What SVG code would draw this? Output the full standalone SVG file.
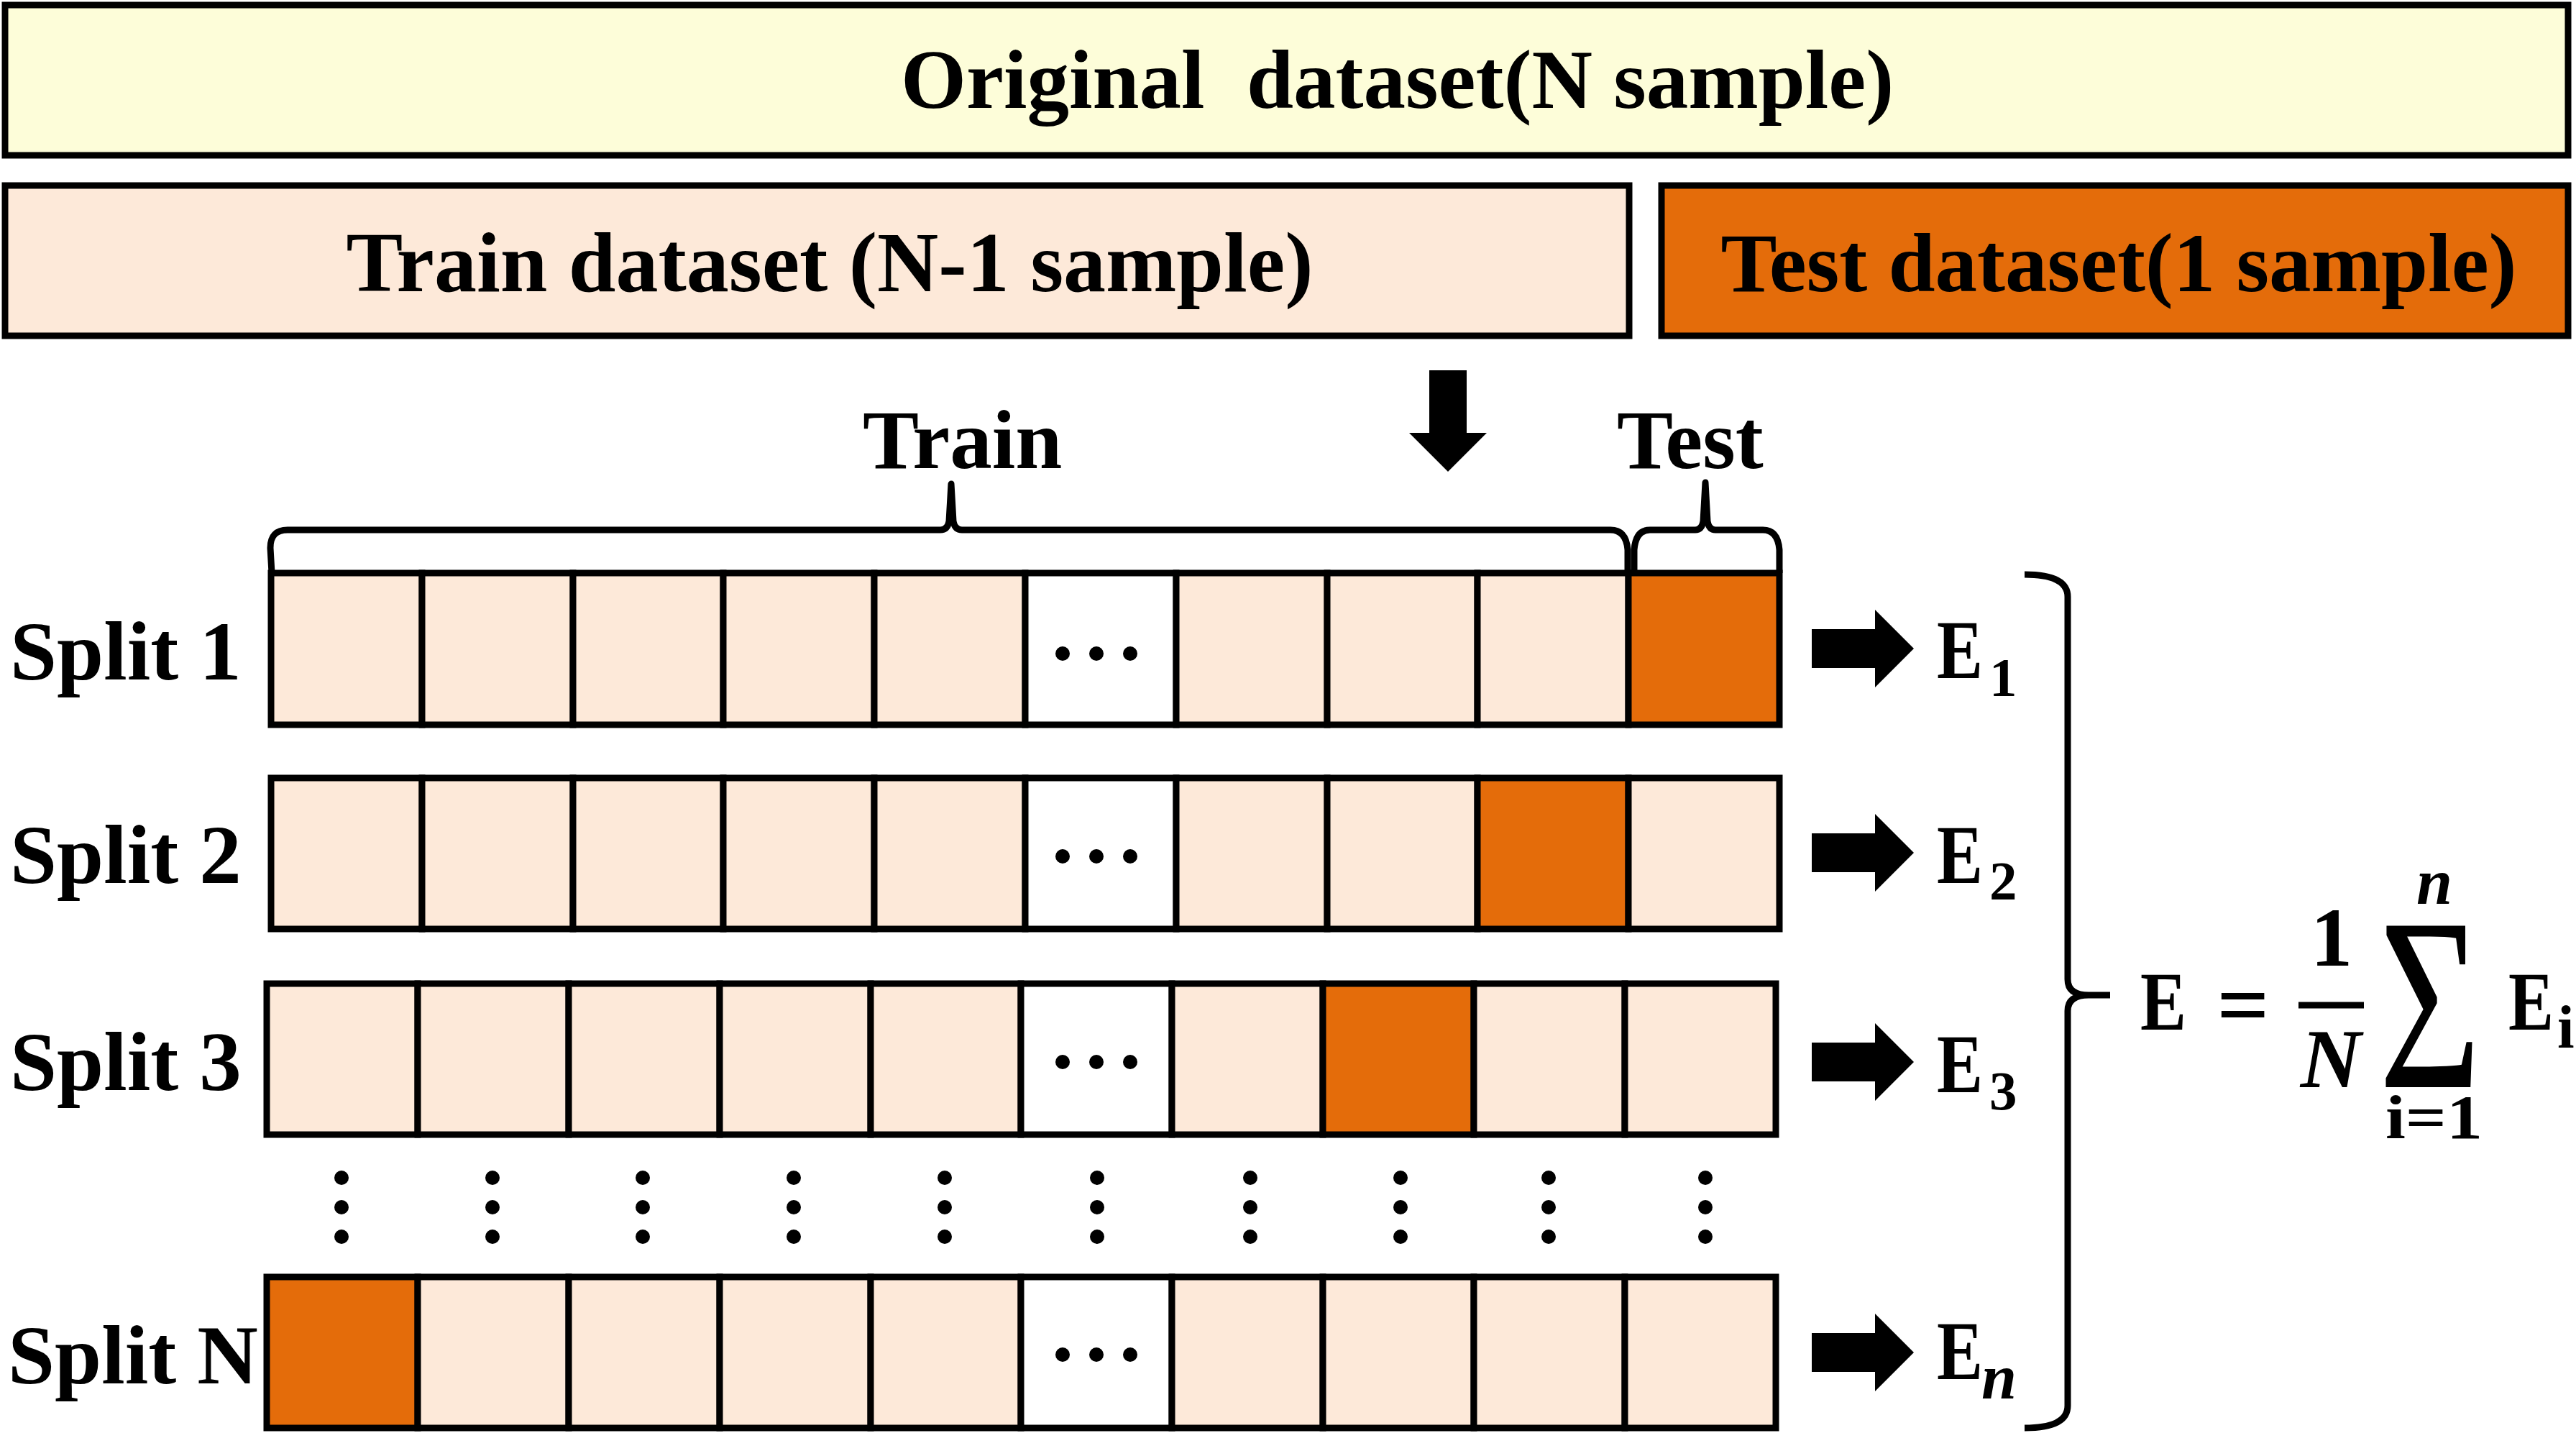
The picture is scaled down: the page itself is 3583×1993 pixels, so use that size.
<svg xmlns="http://www.w3.org/2000/svg" width="3583" height="1993" viewBox="0 0 3583 1993">
<style>
.t{font-family:"Liberation Serif","Times New Roman",serif;font-weight:bold;fill:#000;white-space:pre}
.big{font-size:117px}
.box{stroke:#000;stroke-width:9;stroke-linejoin:miter}
.c{fill:#FDE9D9;stroke:#000;stroke-width:9}
.o{fill:#E46C0A;stroke:#000;stroke-width:9}
.w{fill:#FFFFFF;stroke:#000;stroke-width:9}
.br{fill:none;stroke:#000;stroke-width:9;stroke-linejoin:round;stroke-linecap:butt}
.dot{fill:#000}
</style>
<defs>
<g id="dots3"><circle cx="-47" cy="0" r="10"/><circle cx="0" cy="0" r="10"/><circle cx="47" cy="0" r="10"/></g>
<polygon id="rarrow" points="0,-27 88,-27 88,-54 142,0 88,54 88,27 0,27"/>
</defs>

<g id="original">
<rect class="box" x="7" y="7" width="3565" height="209" fill="#FDFDD9"/>
<text class="t big" x="1253" y="150" xml:space="preserve">Original  dataset(N sample)</text>
</g>
<g id="train-dataset">
<rect class="box" x="7" y="258" width="2259" height="209" fill="#FDE9D9"/>
<text class="t" font-size="118" x="1154" y="405" text-anchor="middle">Train dataset (N-1 sample)</text>
</g>
<g id="test-dataset">
<rect class="box" x="2311" y="258" width="1261" height="209" fill="#E46C0A"/>
<text class="t big" x="2947" y="405" text-anchor="middle">Test dataset(1 sample)</text>
</g>

<g id="labels">
<text class="t big" x="1200" y="651">Train</text>
<text class="t big" x="2249" y="651">Test</text>
</g>

<g id="split1">
<text class="t big" x="14" y="945">Split 1</text>
<rect class="c" x="377" y="797" width="210" height="211"/>
<rect class="c" x="587" y="797" width="210" height="211"/>
<rect class="c" x="797" y="797" width="209" height="211"/>
<rect class="c" x="1006" y="797" width="210" height="211"/>
<rect class="c" x="1216" y="797" width="210" height="211"/>
<rect class="w" x="1426" y="797" width="210" height="211"/>
<rect class="c" x="1636" y="797" width="210" height="211"/>
<rect class="c" x="1846" y="797" width="209" height="211"/>
<rect class="c" x="2055" y="797" width="210" height="211"/>
<rect class="o" x="2265" y="797" width="210" height="211"/>
<use href="#dots3" x="1525" y="909"/>
</g>
<g id="split2">
<text class="t big" x="14" y="1228">Split 2</text>
<rect class="c" x="377" y="1082" width="210" height="210"/>
<rect class="c" x="587" y="1082" width="210" height="210"/>
<rect class="c" x="797" y="1082" width="209" height="210"/>
<rect class="c" x="1006" y="1082" width="210" height="210"/>
<rect class="c" x="1216" y="1082" width="210" height="210"/>
<rect class="w" x="1426" y="1082" width="210" height="210"/>
<rect class="c" x="1636" y="1082" width="210" height="210"/>
<rect class="c" x="1846" y="1082" width="209" height="210"/>
<rect class="o" x="2055" y="1082" width="210" height="210"/>
<rect class="c" x="2265" y="1082" width="210" height="210"/>
<use href="#dots3" x="1525" y="1191"/>
</g>
<g id="split3">
<text class="t big" x="14" y="1516">Split 3</text>
<rect class="c" x="371" y="1368" width="210" height="210"/>
<rect class="c" x="581" y="1368" width="210" height="210"/>
<rect class="c" x="791" y="1368" width="210" height="210"/>
<rect class="c" x="1001" y="1368" width="210" height="210"/>
<rect class="c" x="1211" y="1368" width="209" height="210"/>
<rect class="w" x="1420" y="1368" width="210" height="210"/>
<rect class="c" x="1630" y="1368" width="210" height="210"/>
<rect class="o" x="1840" y="1368" width="210" height="210"/>
<rect class="c" x="2050" y="1368" width="210" height="210"/>
<rect class="c" x="2260" y="1368" width="210" height="210"/>
<use href="#dots3" x="1525" y="1477"/>
</g>
<g id="splitN">
<text class="t big" x="11" y="1924">Split N</text>
<rect class="o" x="371" y="1776" width="210" height="210"/>
<rect class="c" x="581" y="1776" width="210" height="210"/>
<rect class="c" x="791" y="1776" width="210" height="210"/>
<rect class="c" x="1001" y="1776" width="210" height="210"/>
<rect class="c" x="1211" y="1776" width="209" height="210"/>
<rect class="w" x="1420" y="1776" width="210" height="210"/>
<rect class="c" x="1630" y="1776" width="210" height="210"/>
<rect class="c" x="1840" y="1776" width="210" height="210"/>
<rect class="c" x="2050" y="1776" width="210" height="210"/>
<rect class="c" x="2260" y="1776" width="210" height="210"/>
<use href="#dots3" x="1525" y="1884"/>
</g>

<g id="vdots" class="dot">
<circle cx="475" cy="1638" r="10"/><circle cx="475" cy="1679" r="10"/><circle cx="475" cy="1720" r="10"/>
<circle cx="685" cy="1638" r="10"/><circle cx="685" cy="1679" r="10"/><circle cx="685" cy="1720" r="10"/>
<circle cx="894" cy="1638" r="10"/><circle cx="894" cy="1679" r="10"/><circle cx="894" cy="1720" r="10"/>
<circle cx="1104" cy="1638" r="10"/><circle cx="1104" cy="1679" r="10"/><circle cx="1104" cy="1720" r="10"/>
<circle cx="1314" cy="1638" r="10"/><circle cx="1314" cy="1679" r="10"/><circle cx="1314" cy="1720" r="10"/>
<circle cx="1526" cy="1638" r="10"/><circle cx="1526" cy="1679" r="10"/><circle cx="1526" cy="1720" r="10"/>
<circle cx="1739" cy="1638" r="10"/><circle cx="1739" cy="1679" r="10"/><circle cx="1739" cy="1720" r="10"/>
<circle cx="1948" cy="1638" r="10"/><circle cx="1948" cy="1679" r="10"/><circle cx="1948" cy="1720" r="10"/>
<circle cx="2154" cy="1638" r="10"/><circle cx="2154" cy="1679" r="10"/><circle cx="2154" cy="1720" r="10"/>
<circle cx="2372" cy="1638" r="10"/><circle cx="2372" cy="1679" r="10"/><circle cx="2372" cy="1720" r="10"/>
</g>

<g id="connectors">
<path class="br" d="M378,797 L376,762 Q376,737 400,737 L1308,737 Q1318,737 1320,725 L1323,673 L1326,725 Q1328,737 1338,737 L2240,737 Q2262,737 2264,765 L2264,797"/>
<path class="br" d="M2273,797 L2273,765 Q2275,737 2295,737 L2358,737 Q2367,737 2369,725 L2372,671 L2375,725 Q2377,737 2386,737 L2452,737 Q2473,737 2475,765 L2475,797"/>
<polygon points="1988,515 2040,515 2040,602 2068,602 2014,656 1960,602 1988,602" fill="#000"/>
<use href="#rarrow" x="2520" y="902"/>
<use href="#rarrow" x="2520" y="1186"/>
<use href="#rarrow" x="2520" y="1477"/>
<use href="#rarrow" x="2520" y="1881"/>
<path class="br" stroke-width="10" d="M2816,799 Q2876,799 2876,830 L2876,1362 Q2876,1384 2905,1384 L2935,1384 M2905,1384 Q2876,1384 2876,1406 L2876,1955 Q2876,1986 2816,1986"/>
</g>

<g id="errors">
<text class="t big" x="2694" y="943" textLength="64" lengthAdjust="spacingAndGlyphs">E</text>
<text class="t" font-size="77" x="2767" y="968">1</text>
<text class="t big" x="2694" y="1228" textLength="64" lengthAdjust="spacingAndGlyphs">E</text>
<text class="t" font-size="77" x="2767" y="1251">2</text>
<text class="t big" x="2694" y="1519" textLength="64" lengthAdjust="spacingAndGlyphs">E</text>
<text class="t" font-size="77" x="2767" y="1543">3</text>
<text class="t big" x="2694" y="1918" textLength="64" lengthAdjust="spacingAndGlyphs">E</text>
<text class="t" font-size="88" font-style="italic" x="2756" y="1945">n</text>
</g>

<g id="formula">
<text class="t big" x="2977" y="1432" textLength="64" lengthAdjust="spacingAndGlyphs">E</text>
<text class="t" font-size="128" x="3120" y="1440" text-anchor="middle">=</text>
<text class="t big" x="3243" y="1343" text-anchor="middle">1</text>
<rect x="3197" y="1393.5" width="91" height="9" fill="#000"/>
<text class="t big" font-style="italic" x="3242" y="1512" text-anchor="middle">N</text>
<text font-family="Liberation Serif, serif" font-size="343" transform="translate(3309,1512) scale(0.71,1)" x="0" y="0">Σ</text>
<text class="t" font-size="90" font-style="italic" x="3386" y="1257" text-anchor="middle">n</text>
<text class="t" font-size="86" x="3318" y="1583" textLength="135" lengthAdjust="spacingAndGlyphs">i=1</text>
<text class="t big" x="3489" y="1432" textLength="63" lengthAdjust="spacingAndGlyphs">E</text>
<text class="t" font-size="85" x="3557" y="1457">i</text>
</g>
</svg>
